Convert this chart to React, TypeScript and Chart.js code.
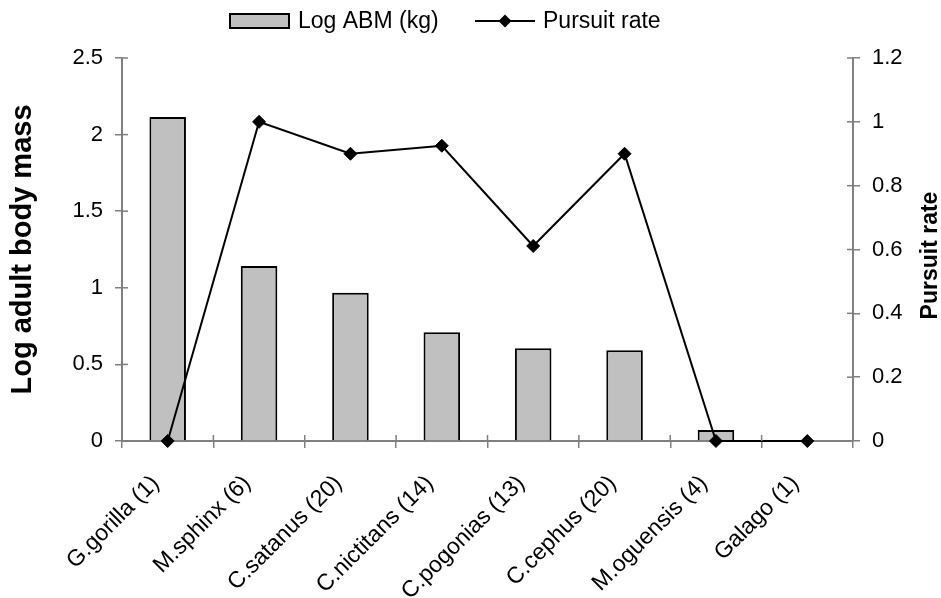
import React, { useEffect, useRef } from "react";
import { Chart, registerables } from "chart.js";

Chart.register(...registerables);

const CATEGORIES = [
  "G.gorilla (1)",
  "M.sphinx (6)",
  "C.satanus (20)",
  "C.nictitans (14)",
  "C.pogonias (13)",
  "C.cephus (20)",
  "M.oguensis (4)",
  "Galago (1)",
];
const LOG_ABM = [2.115, 1.142, 0.968, 0.71, 0.605, 0.592, 0.072, 0];
const PURSUIT_RATE = [0, 1.0, 0.9, 0.925, 0.611, 0.9, 0, 0];
const LEFT_TICKS = [0, 0.5, 1, 1.5, 2, 2.5];
const RIGHT_TICKS = [0, 0.2, 0.4, 0.6, 0.8, 1, 1.2];
const SERIES_NAMES = ["Log ABM (kg)", "Pursuit rate"];
const LEFT_TITLE = "Log adult body mass";
const RIGHT_TITLE = "Pursuit rate";

const FONT = "'Liberation Sans', Arial, Helvetica, sans-serif";
const AXIS_GREY = "#808080";
const BAR_FILL = "#c0c0c0";

const fmt = (v: number) => String(Math.round(v * 10) / 10);

const decorPlugin = {
  id: "decor",
  afterDraw(chart: any) {
    const { ctx, chartArea, scales } = chart;
    const x = scales.x;
    const y = scales.y;
    const y1 = scales.y1;
    const seg = (x0: number, y0: number, x2: number, y2: number) => {
      ctx.beginPath();
      ctx.moveTo(x0, y0);
      ctx.lineTo(x2, y2);
      ctx.stroke();
    };
    ctx.save();
    // inner halves of the crossing tick marks
    ctx.strokeStyle = AXIS_GREY;
    ctx.lineWidth = 1.5;
    LEFT_TICKS.forEach((v) => {
      const p = y.getPixelForValue(v);
      seg(chartArea.left, p, chartArea.left + 6, p);
    });
    RIGHT_TICKS.forEach((v) => {
      const p = y1.getPixelForValue(v);
      seg(chartArea.right - 6, p, chartArea.right, p);
    });
    for (let i = 0; i <= CATEGORIES.length; i++) {
      const p = x.getPixelForValue(i - 0.5);
      seg(p, chartArea.bottom - 6, p, chartArea.bottom);
    }

    // right axis title (reads bottom-to-top)
    ctx.fillStyle = "#000";
    ctx.font = `bold 23px ${FONT}`;
    ctx.textAlign = "center";
    ctx.textBaseline = "middle";
    ctx.save();
    ctx.translate(931, (chartArea.top + chartArea.bottom) / 2 + 6);
    ctx.rotate(-Math.PI / 2);
    ctx.fillText(RIGHT_TITLE, 0, 0);
    ctx.restore();

    // legend
    const ly = 21;
    ctx.fillStyle = BAR_FILL;
    ctx.strokeStyle = "#000";
    ctx.lineWidth = 2;
    ctx.fillRect(230, 14, 59, 14);
    ctx.strokeRect(230, 14, 59, 14);
    ctx.fillStyle = "#000";
    ctx.font = `23px ${FONT}`;
    ctx.textAlign = "left";
    ctx.textBaseline = "alphabetic";
    ctx.fillText(SERIES_NAMES[0], 298, 28);

    seg(475, ly, 535, ly);
    ctx.beginPath();
    ctx.moveTo(505 - 6.5, ly);
    ctx.lineTo(505, ly - 6.5);
    ctx.lineTo(505 + 6.5, ly);
    ctx.lineTo(505, ly + 6.5);
    ctx.closePath();
    ctx.fill();
    ctx.fillText(SERIES_NAMES[1], 543, 28);
    ctx.restore();
  },
};

export default function App() {
  const ref = useRef<HTMLCanvasElement | null>(null);

  useEffect(() => {
    if (!ref.current) return;
    Chart.defaults.font.family = FONT;
    Chart.defaults.color = "#000";

    const chart = new Chart(ref.current, {
      type: "bar",
      data: {
        labels: CATEGORIES,
        datasets: [
          {
            type: "line",
            label: SERIES_NAMES[1],
            data: PURSUIT_RATE,
            yAxisID: "y1",
            borderColor: "#000",
            borderWidth: 2,
            backgroundColor: "#000",
            pointStyle: "rectRot",
            pointRadius: 6.5,
            pointBackgroundColor: "#000",
            pointBorderColor: "#000",
            pointBorderWidth: 1,
            tension: 0,
            clip: false,
            order: 0,
          } as any,
          {
            type: "bar",
            label: SERIES_NAMES[0],
            data: LOG_ABM,
            yAxisID: "y",
            backgroundColor: BAR_FILL,
            borderColor: "#000",
            borderWidth: 2,
            barPercentage: 0.4,
            categoryPercentage: 1,
            order: 1,
          } as any,
        ],
      },
      options: {
        animation: false,
        responsive: true,
        maintainAspectRatio: false,
        layout: { padding: { top: 58, left: 0, right: 0, bottom: 0 } },
        plugins: {
          legend: { display: false },
          tooltip: { enabled: false },
        },
        scales: {
          x: {
            grid: {
              drawOnChartArea: false,
              drawTicks: true,
              tickLength: 7,
              color: AXIS_GREY,
              lineWidth: 1.5,
            },
            border: { color: AXIS_GREY, width: 2 },
            ticks: {
              autoSkip: false,
              maxRotation: 45,
              minRotation: 45,
              padding: 22,
              labelOffset: -12,
              font: { size: 23 },
              color: "#000",
            },
            afterFit: (s: any) => {
              s.height = 157;
            },
          },
          y: {
            position: "left",
            min: 0,
            max: 2.5,
            afterBuildTicks: (s: any) => {
              s.ticks = LEFT_TICKS.map((v) => ({ value: v }));
            },
            grid: {
              drawOnChartArea: false,
              drawTicks: true,
              tickLength: 7,
              color: AXIS_GREY,
              lineWidth: 1.5,
            },
            border: { color: AXIS_GREY, width: 2 },
            ticks: {
              padding: 12,
              font: { size: 22 },
              color: "#000",
              callback: (v: any) => fmt(Number(v)),
            },
            title: {
              display: true,
              text: LEFT_TITLE,
              font: { size: 29, weight: "bold" },
              color: "#000",
              padding: { top: 6, bottom: 0 },
            },
            afterFit: (s: any) => {
              s.width = 122;
            },
          },
          y1: {
            position: "right",
            min: 0,
            max: 1.2,
            afterBuildTicks: (s: any) => {
              s.ticks = RIGHT_TICKS.map((v) => ({ value: v }));
            },
            grid: {
              drawOnChartArea: false,
              drawTicks: true,
              tickLength: 7,
              color: AXIS_GREY,
              lineWidth: 1.5,
            },
            border: { color: AXIS_GREY, width: 2 },
            ticks: {
              padding: 12,
              font: { size: 22 },
              color: "#000",
              callback: (v: any) => fmt(Number(v)),
            },
            afterFit: (s: any) => {
              s.width = 88;
            },
          },
        },
      },
      plugins: [decorPlugin],
    });
    return () => chart.destroy();
  }, []);

  return (
    <div style={{ position: "absolute", left: 0, top: 0, width: 941, height: 598 }}>
      <canvas ref={ref} />
    </div>
  );
}
